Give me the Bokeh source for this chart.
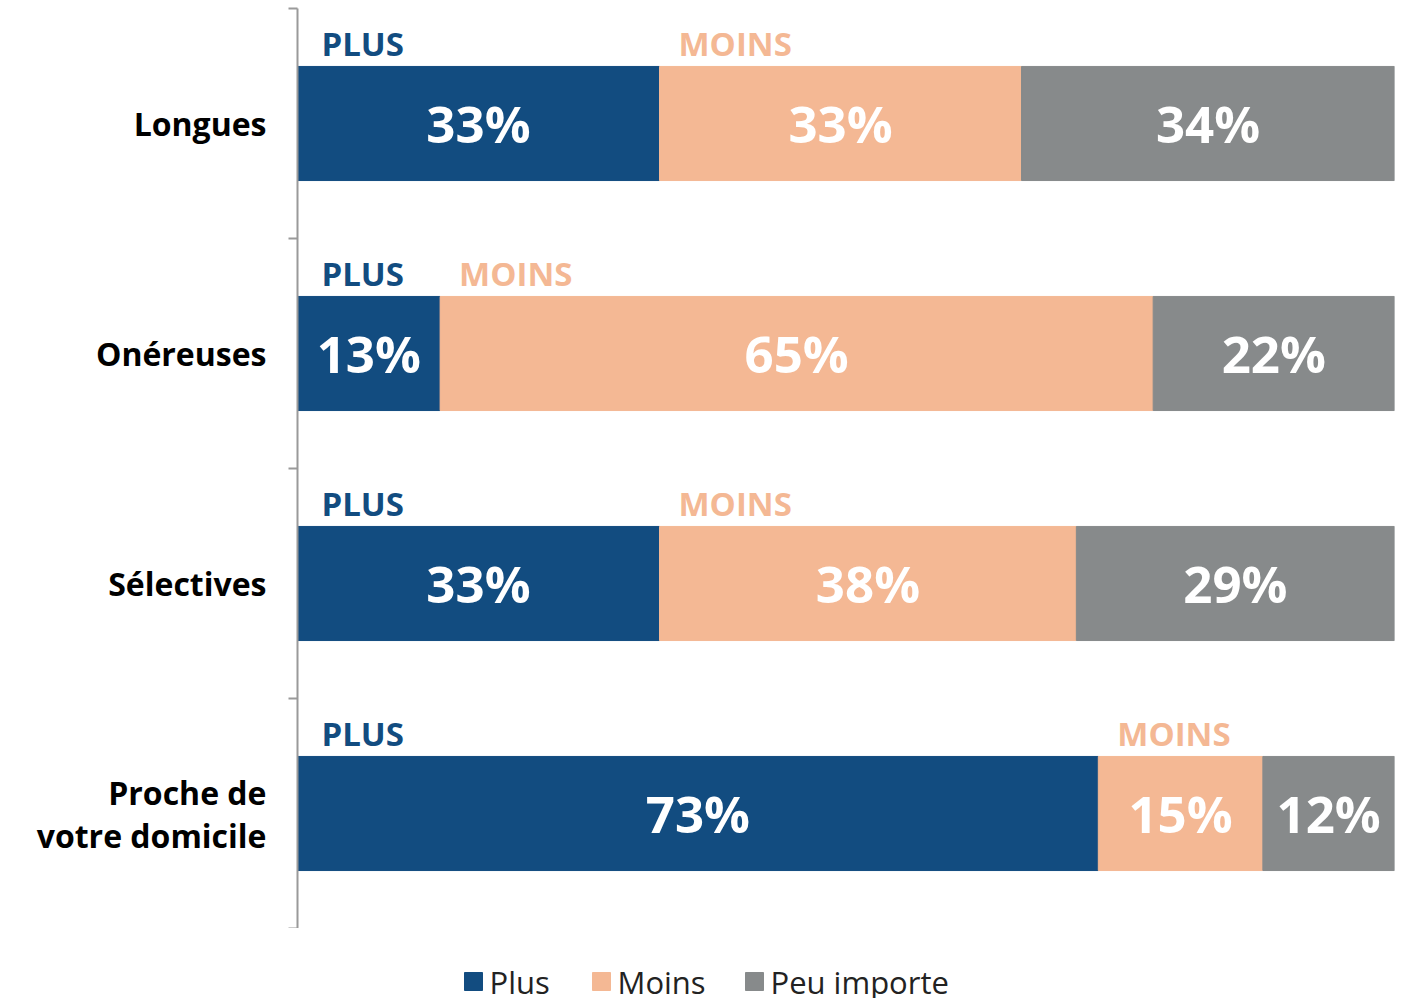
from bokeh.plotting import figure
from bokeh.layouts import column
from bokeh.models import ColumnDataSource, Range1d, FixedTicker
from bokeh.core.properties import value
from bokeh.embed import file_html
from bokeh.resources import INLINE

categories = ["Longues", "Onéreuses", "Sélectives", "Proche de\nvotre domicile"]
plus = [33, 13, 33, 73]
moins = [33, 65, 38, 15]
peu = [34, 22, 29, 12]
series_names = ["Plus", "Moins", "Peu importe"]

BLUE = "#124c80"
PEACH = "#f4b894"
GRAY = "#878a8b"
FONT = "Open Sans"
series_colors = [BLUE, PEACH, GRAY]

n = len(categories)
ypos = [n - i - 0.5 for i in range(n)]
plus_start = [0] * n
plus_end = plus[:]
moins_start = plus_end[:]
moins_end = [a + b for a, b in zip(plus, moins)]
peu_start = moins_end[:]
peu_end = [a + b for a, b in zip(moins_end, peu)]

src = ColumnDataSource(dict(
    y=ypos, cat=categories,
    plus_start=plus_start, plus_end=plus_end,
    moins_start=moins_start, moins_end=moins_end,
    peu_start=peu_start, peu_end=peu_end,
    plus_mid=[(a + b) / 2 for a, b in zip(plus_start, plus_end)],
    moins_mid=[(a + b) / 2 for a, b in zip(moins_start, moins_end)],
    peu_mid=[(a + b) / 2 for a, b in zip(peu_start, peu_end)],
    plus_lbl=[f"{v}%" for v in plus],
    moins_lbl=[f"{v}%" for v in moins],
    peu_lbl=[f"{v}%" for v in peu],
    top=[y + 0.248 for y in ypos],
    plus_word=["PLUS"] * n,
    moins_word=["MOINS"] * n,
))

FRAME_W = 1097
LEFT = 297

p = figure(frame_width=FRAME_W, frame_height=920, output_backend="svg", toolbar_location=None,
           x_range=Range1d(0, 100), y_range=Range1d(0, n),
           min_border_left=LEFT, min_border_top=8, min_border_right=4, min_border_bottom=0)
p.outline_line_color = None
p.grid.visible = False
p.xaxis.visible = False

BH = 0.496
p.hbar(y="y", left="plus_start", right="plus_end", height=BH, color=BLUE, source=src)
p.hbar(y="y", left="moins_start", right="moins_end", height=BH, color=PEACH, source=src)
p.hbar(y="y", left="peu_start", right="peu_end", height=BH, color=GRAY, source=src)

for mid, lbl in [("plus_mid", "plus_lbl"), ("moins_mid", "moins_lbl"), ("peu_mid", "peu_lbl")]:
    p.text(x=mid, y="y", text=lbl, source=src, text_color="white", text_font=value(FONT),
           text_font_style="bold", text_font_size="51px", text_align="center",
           text_baseline="middle", y_offset=-1)

p.text(x="plus_start", y="top", text="plus_word", source=src, text_color=BLUE,
       text_font=value(FONT), text_font_style="bold", text_font_size="33px",
       text_align="left", text_baseline="bottom", x_offset=24, y_offset=0)
p.text(x="moins_start", y="top", text="moins_word", source=src, text_color=PEACH,
       text_font=value(FONT), text_font_style="bold", text_font_size="33px",
       text_align="left", text_baseline="bottom", x_offset=19, y_offset=0)

ax = p.yaxis[0]
ax.ticker = FixedTicker(ticks=ypos, minor_ticks=list(range(n + 1)))
ax.major_label_overrides = {y: c for y, c in zip(ypos, categories)}
ax.major_tick_line_color = None
ax.major_tick_out = 0
ax.major_tick_in = 0
ax.minor_tick_out = 9
ax.minor_tick_in = 0
ax.minor_tick_line_color = "#9a9a9a"
ax.minor_tick_line_width = 2
ax.axis_line_color = "#9a9a9a"
ax.axis_line_width = 2
ax.major_label_standoff = 22
ax.major_label_text_font = FONT
ax.major_label_text_font_style = "bold"
ax.major_label_text_font_size = "32px"
ax.major_label_text_line_height = 1.0
ax.major_label_text_color = "black"

# legend strip (layout positions in page pixels)
LEG_H = 70
leg_square_x = [473, 601, 754]
leg = figure(frame_width=FRAME_W, frame_height=LEG_H, output_backend="svg", toolbar_location=None,
             x_range=Range1d(LEFT, LEFT + FRAME_W), y_range=Range1d(0, LEG_H),
             min_border_left=LEFT, min_border_right=4, min_border_top=0, min_border_bottom=0)
leg.outline_line_color = None
leg.grid.visible = False
leg.axis.visible = False
leg_src = ColumnDataSource(dict(
    sx=leg_square_x, lx=[x + 16 for x in leg_square_x], y=[17] * 3,
    name=series_names, color=series_colors))
leg.scatter(x="sx", y="y", marker="square", size=18, color="color", source=leg_src)
leg.text(x="lx", y="y", text="name", source=leg_src, text_color="#222222",
         text_font=value(FONT), text_font_size="31px", text_align="left",
         text_baseline="middle", y_offset=0)

layout = column(p, leg, spacing=0)
open("out.html", "w").write(file_html(layout, INLINE))
